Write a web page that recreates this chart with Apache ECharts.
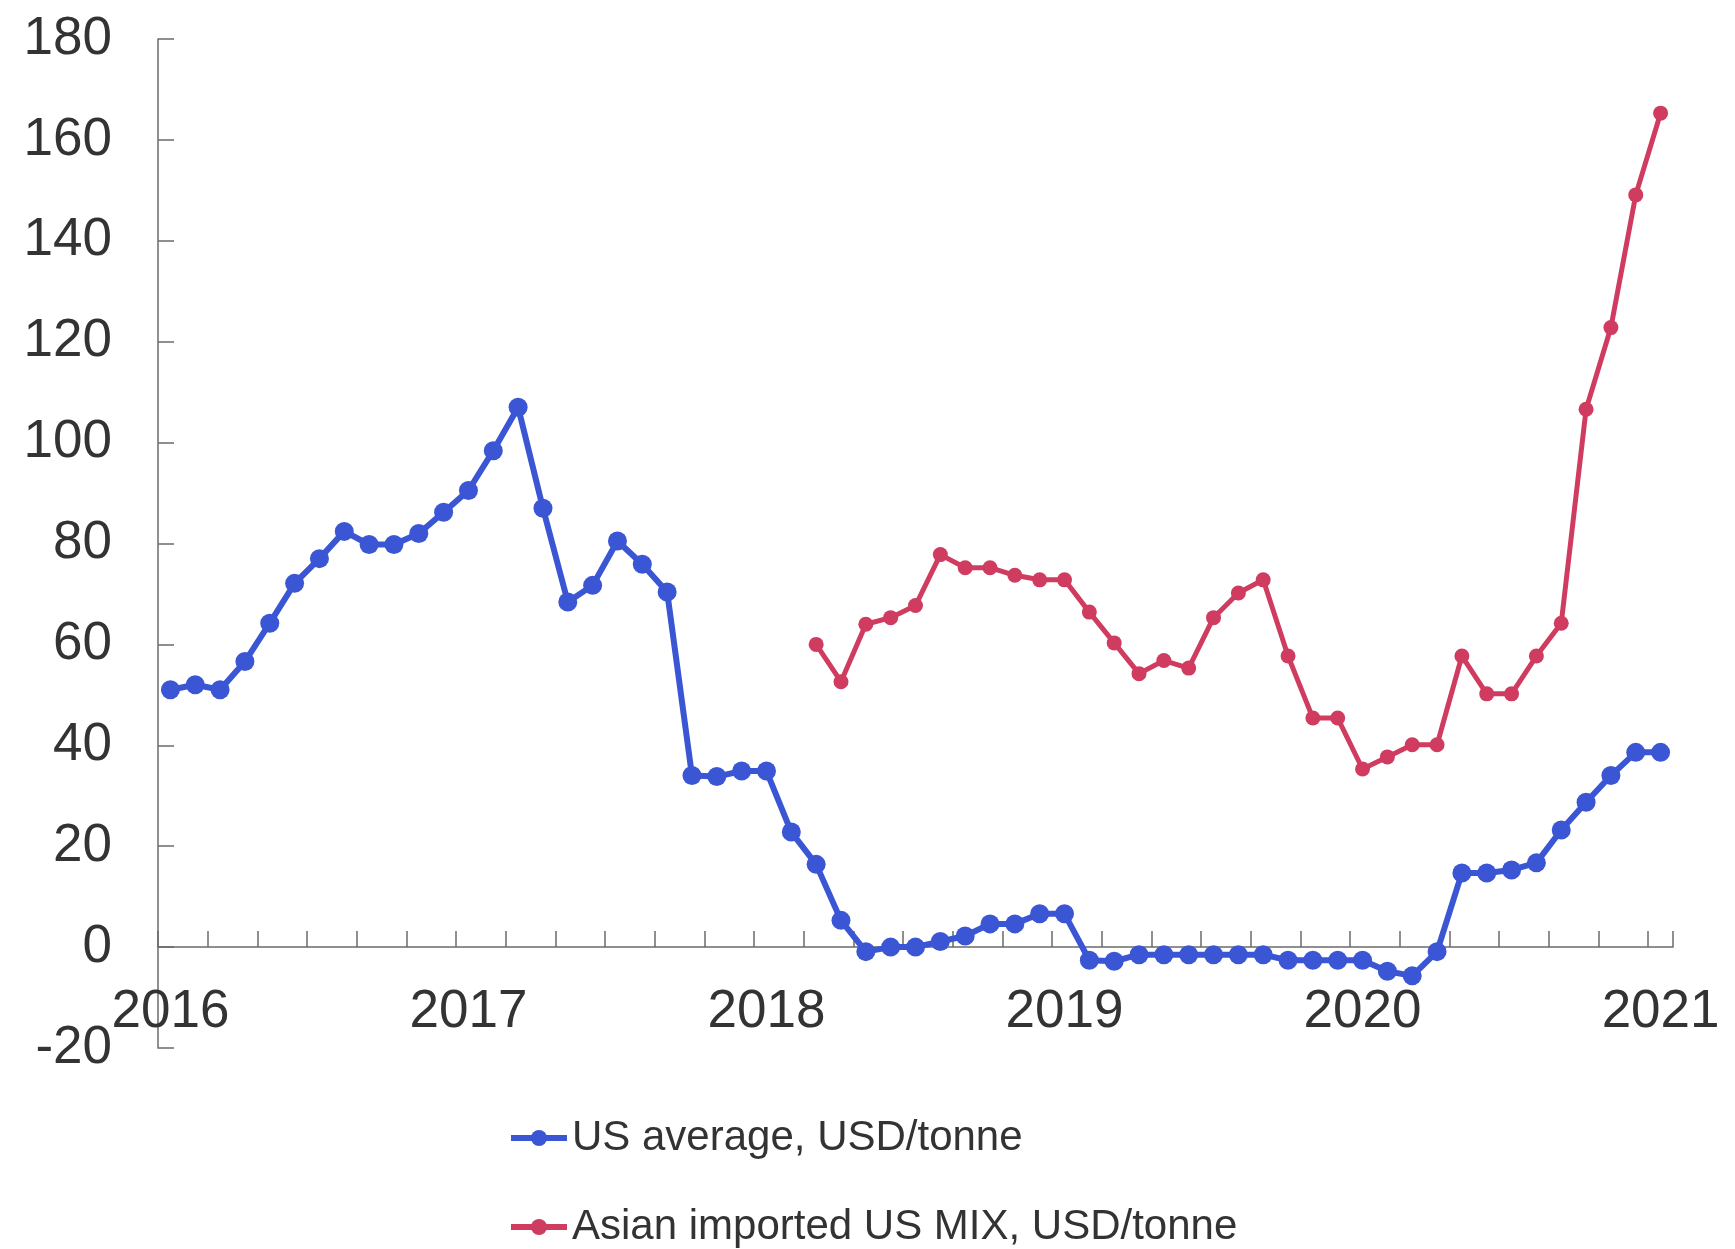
<!DOCTYPE html>
<html>
<head>
<meta charset="utf-8">
<script src="https://cdn.jsdelivr.net/npm/echarts@6/dist/echarts.min.js"></script>
<style>html,body{margin:0;padding:0;background:#fff}#c{width:1735px;height:1249px}</style>
</head>
<body>
<div id="c"></div>
<script>
// Monthly categories Jan 2016 .. Jan 2021
const months = [];
for (let y = 2016; y <= 2021; y++) {
  for (let m = 1; m <= 12; m++) {
    if (y === 2021 && m > 1) break;
    months.push(y + '-' + (m < 10 ? '0' + m : m));
  }
}
const usAverage = [
  51, 52, 51, 56.6, 64.2, 72.1, 77, 82.4, 79.8, 79.8, 82, 86.2,
  90.5, 98.4, 107, 87, 68.4, 71.7, 80.5, 75.9, 70.4, 34, 33.8, 34.9,
  34.9, 22.8, 16.4, 5.3, -0.9, 0, 0, 1.1, 2.2, 4.6, 4.6, 6.6,
  6.6, -2.6, -2.8, -1.5, -1.5, -1.5, -1.5, -1.5, -1.5, -2.6, -2.6, -2.6,
  -2.6, -4.8, -5.7, -0.9, 14.7, 14.7, 15.3, 16.7, 23.2, 28.7, 34, 38.6,
  38.6
];
const asianMix = [
  null, null, null, null, null, null, null, null, null, null, null, null,
  null, null, null, null, null, null, null, null, null, null, null, null,
  null, null, 60, 52.6, 64, 65.3, 67.7, 77.8, 75.2, 75.2, 73.7, 72.8,
  72.8, 66.4, 60.3, 54.2, 56.8, 55.3, 65.3, 70.2, 72.8, 57.7, 45.4, 45.4,
  35.3, 37.7, 40.1, 40.1, 57.7, 50.2, 50.2, 57.7, 64.2, 106.6, 122.8, 149.1,
  165.3
];
const seriesNames = ['US average, USD/tonne', 'Asian imported US MIX, USD/tonne'];
const yTicks = { min: -20, max: 180, step: 20 };

const blue = '#3a56d4';
const red = '#d03c60';
const chart = echarts.init(document.getElementById('c'));
const textColor = '#333333';
const axisColor = '#6b6b6b';
const legendBase = {
  orient: 'vertical',
  left: 508,
  padding: 0,
  itemWidth: 56,
  itemHeight: 20,
  textStyle: { fontSize: 42, color: textColor, lineHeight: 44 }
};
chart.setOption({
  animation: false,
  backgroundColor: '#ffffff',
  textStyle: { fontFamily: 'Liberation Sans, Arial, sans-serif' },
  grid: { left: 158, right: 62, top: 39, bottom: 201, containLabel: false },
  legend: [
    Object.assign({}, legendBase, {
      top: 1116,
      data: [{ name: seriesNames[0], lineStyle: { width: 6, color: blue }, itemStyle: { color: blue } }]
    }),
    Object.assign({}, legendBase, {
      top: 1205,
      data: [{ name: seriesNames[1], lineStyle: { width: 6, color: red }, itemStyle: { color: red } }]
    })
  ],
  xAxis: {
    type: 'category',
    data: months,
    boundaryGap: true,
    axisLine: { onZero: true, lineStyle: { color: axisColor, width: 1.5 } },
    axisTick: { show: true, inside: true, interval: 1, length: 16, lineStyle: { color: axisColor, width: 1.5 } },
    axisLabel: {
      interval: 11,
      fontSize: 53,
      color: textColor,
      margin: -62,
      formatter: v => v.slice(0, 4)
    },
    splitLine: { show: false }
  },
  yAxis: {
    type: 'value',
    min: yTicks.min,
    max: yTicks.max,
    interval: yTicks.step,
    axisLine: { show: true, lineStyle: { color: axisColor, width: 1.5 } },
    axisTick: { show: true, inside: true, length: 16, lineStyle: { color: axisColor, width: 1.5 } },
    axisLabel: { fontSize: 53, color: textColor, margin: 46 },
    splitLine: { show: false }
  },
  series: [
    {
      name: seriesNames[0],
      type: 'line',
      data: usAverage,
      symbol: 'circle',
      symbolSize: 19,
      showAllSymbol: true,
      lineStyle: { width: 6, color: blue },
      itemStyle: { color: blue },
      z: 3
    },
    {
      name: seriesNames[1],
      type: 'line',
      data: asianMix,
      symbol: 'circle',
      symbolSize: 15,
      showAllSymbol: true,
      connectNulls: false,
      lineStyle: { width: 5, color: red },
      itemStyle: { color: red },
      z: 2
    }
  ]
});
</script>
</body>
</html>
